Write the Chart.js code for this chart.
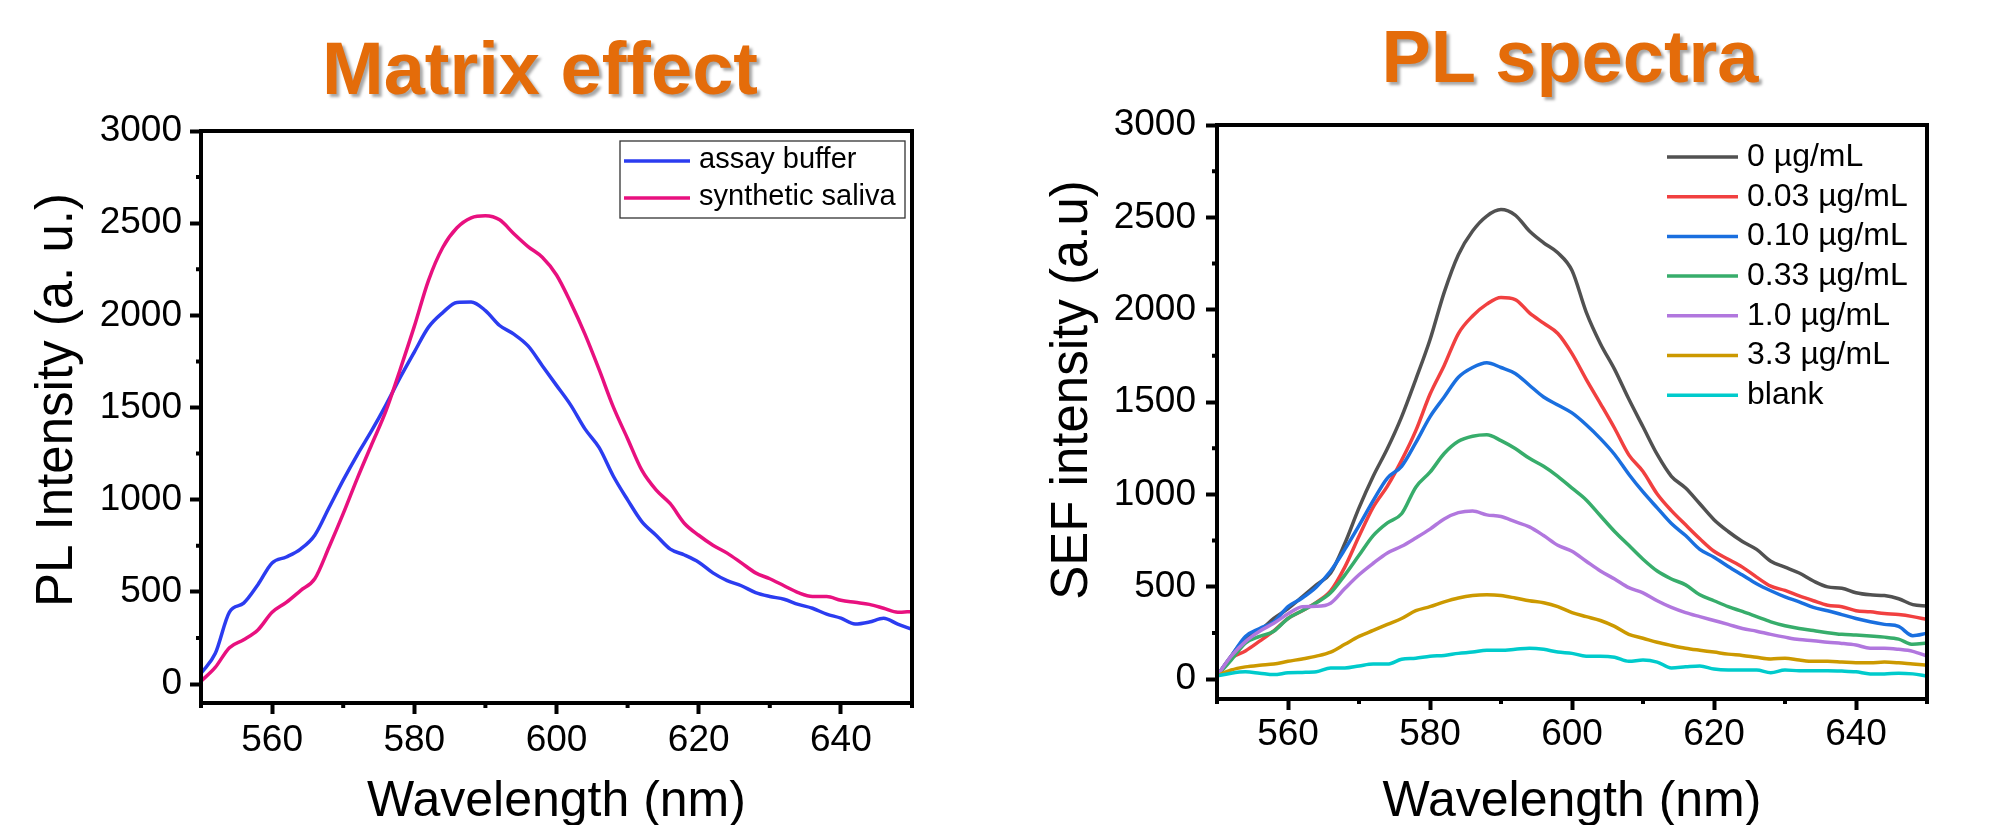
<!DOCTYPE html>
<html>
<head>
<meta charset="utf-8">
<script src="https://cdn.jsdelivr.net/npm/chart.js@4.4.1/dist/chart.umd.min.js"></script>
<style>
html,body{margin:0;padding:0;background:#fff;width:1991px;height:825px;overflow:hidden;position:relative;font-family:"Liberation Sans",Arial,Helvetica,sans-serif}
canvas{position:absolute;top:0}
#c1{left:0}
#c2{left:995px}
.title{position:absolute;font-weight:bold;font-size:74px;line-height:1;color:#E46C0A;text-shadow:3px 3px 3px rgba(0,0,0,0.35);white-space:nowrap;transform:translateX(-50%)}
</style>
</head>
<body>
<div class="title" style="left:540px;top:32px">Matrix effect</div>
<div class="title" style="left:1570px;top:20px">PL spectra</div>
<canvas id="c1" width="995" height="825"></canvas>
<canvas id="c2" width="996" height="825"></canvas>
<script>
// ---------------- data ----------------
const wavelengths = [550,552,554,556,558,560,562,564,566,568,570,572,574,576,578,580,582,584,586,588,590,592,594,596,598,600,602,604,606,608,610,612,614,616,618,620,622,624,626,628,630,632,634,636,638,640,642,644,646,648,650];

const matrixLabels = ['assay buffer','synthetic saliva'];
const assayBuffer = [58,165,390,439,539,657,689,732,807,956,1106,1245,1374,1513,1662,1801,1936,2015,2070,2072,2026,1945,1898,1834,1727,1620,1513,1384,1282,1127,999,881,807,732,700,661,603,561,533,496,475,460,432,411,379,357,325,336,357,325,297];
const syntheticSaliva = [15,90,197,240,293,389,443,507,571,742,924,1117,1299,1480,1705,1940,2190,2368,2475,2529,2540,2518,2443,2373,2315,2219,2069,1898,1705,1502,1331,1160,1053,978,871,807,753,710,657,603,571,533,496,475,475,454,443,432,411,389,394];

const spectraLabels = ['0 µg/mL','0.03 µg/mL','0.10 µg/mL','0.33 µg/mL','1.0 µg/mL','3.3 µg/mL','blank'];
const conc0   = [17,124,221,263,328,381,445,510,574,734,927,1098,1248,1420,1623,1837,2094,2298,2426,2507,2542,2512,2426,2362,2308,2212,1987,1816,1677,1516,1366,1216,1098,1034,949,863,799,745,702,638,606,574,531,499,492,467,456,452,435,403,396];
const conc003 = [17,113,152,205,261,328,370,415,477,606,773,931,1045,1184,1345,1542,1698,1871,1966,2030,2066,2055,1983,1927,1871,1762,1623,1492,1358,1214,1124,1002,912,835,760,692,649,606,552,503,480,450,424,400,392,370,364,355,349,338,323];
const conc010 = [17,124,231,274,310,392,439,499,585,702,831,966,1088,1152,1280,1420,1527,1634,1687,1713,1687,1655,1591,1527,1484,1441,1377,1302,1216,1109,1013,927,842,777,702,660,610,563,516,478,445,418,388,370,349,328,310,296,285,235,248];
const conc033 = [17,103,195,231,259,328,370,413,467,563,670,777,846,895,1039,1120,1221,1287,1315,1323,1291,1248,1195,1152,1098,1034,970,884,799,724,649,585,542,510,456,424,392,366,338,310,289,274,263,251,242,238,233,227,216,188,195];
const conc1   = [17,124,203,259,302,353,392,394,411,490,565,627,683,719,764,812,867,901,910,889,880,852,824,777,724,692,638,585,542,495,467,424,388,360,338,317,296,274,259,242,227,214,208,199,193,184,167,167,161,150,124];
const conc33  = [17,49,66,75,81,96,109,124,146,188,231,263,296,328,370,392,418,439,452,456,452,439,424,413,392,360,338,317,285,242,221,199,182,167,156,146,135,128,118,109,113,103,96,96,92,88,88,92,88,81,75];
const blank   = [17,32,39,32,24,34,36,39,60,60,71,81,81,107,113,124,128,139,146,156,156,161,167,161,146,139,124,124,118,96,103,92,60,66,71,54,49,49,49,34,49,45,45,45,43,39,28,28,32,28,17];

const xMajorTicks = [560,580,600,620,640];
const xMinorTicks = [550,570,590,610,630,650];
const yMajorTicks = [0,500,1000,1500,2000,2500,3000];
const yMinorTicks = [250,750,1250,1750,2250,2750];

// ---------------- drawing ----------------
const FONT = '"Liberation Sans", Arial, Helvetica, sans-serif';

function toPoints(vals){ return wavelengths.map((w,i)=>({x:w,y:vals[i]})); }

const deco = {
  id:'deco',
  afterDraw(chart, args, o){
    const ctx = chart.ctx, a = chart.chartArea, xs = chart.scales.x, ys = chart.scales.y;
    ctx.save();
    ctx.strokeStyle = '#000';
    ctx.lineWidth = 4;
    ctx.lineCap = 'butt';
    ctx.beginPath();
    xMinorTicks.forEach(v=>{ const p = xs.getPixelForValue(v); ctx.moveTo(p, a.bottom); ctx.lineTo(p, a.bottom + o.minorLen); });
    yMinorTicks.forEach(v=>{ const p = ys.getPixelForValue(v); ctx.moveTo(a.left, p); ctx.lineTo(a.left - o.minorLen, p); });
    ctx.stroke();
    ctx.lineJoin = 'miter';
    ctx.strokeRect(a.left, a.top, a.right - a.left, a.bottom - a.top);

    // axis titles
    ctx.fillStyle = '#000';
    ctx.textAlign = 'center';
    ctx.textBaseline = 'alphabetic';
    ctx.font = o.xTitleSize + 'px ' + FONT;
    ctx.fillText(o.xTitle, (a.left + a.right)/2, o.xTitleY);
    ctx.font = o.yTitleSize + 'px ' + FONT;
    ctx.save();
    ctx.translate(o.yTitleX, o.yTitleY);
    ctx.rotate(-Math.PI/2);
    ctx.fillText(o.yTitle, 0, 0);
    ctx.restore();

    // legend
    const L = o.legend;
    if (L.box) {
      ctx.lineWidth = 1.3;
      ctx.strokeStyle = '#333';
      ctx.strokeRect(L.box[0], L.box[1], L.box[2], L.box[3]);
    }
    ctx.font = L.fontSize + 'px ' + FONT;
    ctx.textAlign = 'left';
    ctx.textBaseline = 'middle';
    chart.data.datasets.forEach((ds, i)=>{
      const y = L.rowY0 + i * L.rowStep;
      ctx.strokeStyle = ds.borderColor;
      ctx.lineWidth = 3.5;
      ctx.beginPath();
      ctx.moveTo(L.lineX0, y);
      ctx.lineTo(L.lineX1, y);
      ctx.stroke();
      ctx.fillStyle = '#000';
      ctx.fillText(ds.label, L.textX, y + L.textDy);
    });
    ctx.restore();
  }
};

function build(id, labels, seriesList, colors, o){
  const n = seriesList.length;
  const datasets = seriesList.map((vals, i)=>({
    label: labels[i],
    data: toPoints(vals),
    borderColor: colors[i],
    backgroundColor: colors[i],
    borderWidth: 3.5,
    pointRadius: 0,
    fill: false,
    cubicInterpolationMode: 'monotone',
    order: n - i
  }));
  const tickFont = {family: FONT, size: 37, lineHeight: 1.2};
  const grid = {display:true, drawOnChartArea:false, drawTicks:true, tickLength:11, tickWidth:4, tickColor:'#000'};
  return new Chart(document.getElementById(id), {
    type: 'line',
    data: {datasets},
    options: {
      responsive: false,
      animation: false,
      devicePixelRatio: 1,
      layout: {padding: {left:0, top:o.padTop, right:o.padRight, bottom:0}},
      plugins: {legend:{display:false}, tooltip:{enabled:false}, deco: o},
      scales: {
        x: {
          type:'linear', min:550, max:650,
          afterFit(s){ s.height = o.xAxisH; },
          afterBuildTicks(s){ s.ticks = xMajorTicks.map(v=>({value:v})); },
          ticks:{font:tickFont, color:'#000', padding:o.xPad, maxRotation:0, autoSkip:false, callback:(v)=>String(v)},
          grid: grid,
          border:{display:false}
        },
        y: {
          type:'linear', min:o.yMin, max:3000,
          afterFit(s){ s.width = o.yAxisW; },
          afterBuildTicks(s){ s.ticks = yMajorTicks.map(v=>({value:v})); },
          ticks:{font:tickFont, color:'#000', padding:o.yPad, autoSkip:false, callback:(v)=>String(v)},
          grid: grid,
          border:{display:false}
        }
      }
    },
    plugins: [deco]
  });
}

build('c1', matrixLabels, [assayBuffer, syntheticSaliva], ['#2B3CF0','#E8107F'], {
  padTop:131, padRight:83, xAxisH:122, yAxisW:201, yMin:-103, xPad:5, yPad:8, minorLen:5,
  xTitle:'Wavelength (nm)', xTitleY:816, xTitleSize:50, yTitle:'PL Intensity (a. u.)', yTitleX:72, yTitleY:400, yTitleSize:51,
  legend:{box:[620,141,285,77], lineX0:624, lineX1:690, textX:699, rowY0:161, rowStep:37, fontSize:29, textDy:-1}
});

build('c2', spectraLabels, [conc0, conc003, conc010, conc033, conc1, conc33, blank],
  ['#515151','#F14040','#1A6FDF','#37AD6B','#B177DE','#CC9900','#00CBCC'], {
  padTop:125, padRight:64, xAxisH:126, yAxisW:222, yMin:-108, xPad:3, yPad:10, minorLen:5,
  xTitle:'Wavelength (nm)', xTitleY:816, xTitleSize:50, yTitle:'SEF intensity (a.u)', yTitleX:92, yTitleY:390, yTitleSize:51,
  legend:{box:null, lineX0:672, lineX1:743, textX:752, rowY0:157, rowStep:39.7, fontSize:32, textDy:0}
});
</script>
</body>
</html>
